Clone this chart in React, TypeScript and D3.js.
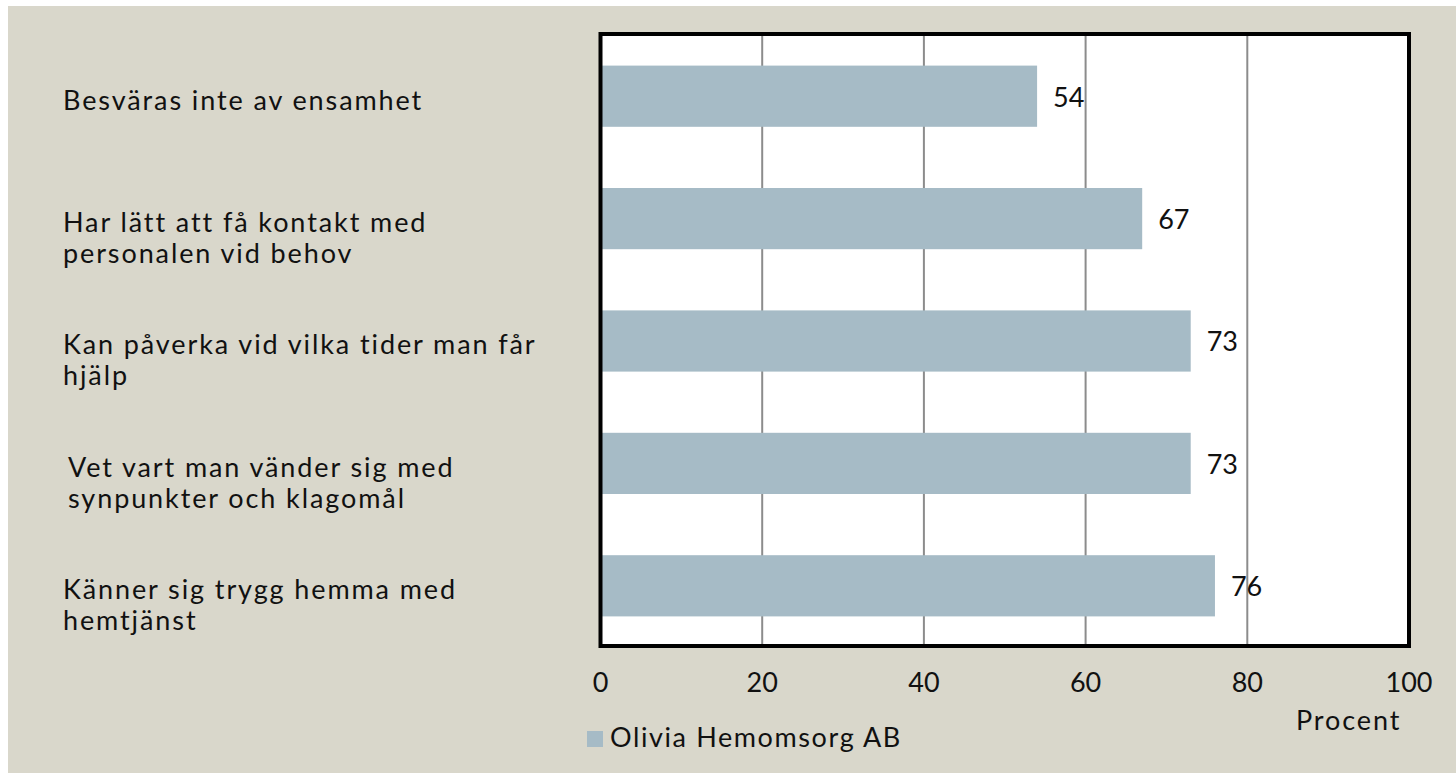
import * as d3 from 'd3';

const categories = [
  ['Besväras inte av ensamhet'],
  ['Har lätt att få kontakt med', 'personalen vid behov'],
  ['Kan påverka vid vilka tider man får', 'hjälp'],
  ['Vet vart man vänder sig med', 'synpunkter och klagomål'],
  ['Känner sig trygg hemma med', 'hemtjänst'],
];
const values = [54, 67, 73, 73, 76];
const xTicks = [0, 20, 40, 60, 80, 100];
const seriesName = 'Olivia Hemomsorg AB';
const axisTitle = 'Procent';

const W = 1456;
const H = 773;
const FONT = 'Lato, "Noto Sans", sans-serif';
const FS = 27;
const SPACING = '1.9px';

export default function App() {
  const plot = { left: 600.5, right: 1409, top: 35, bottom: 647 };

  const x = d3.scaleLinear().domain([0, 100]).range([plot.left, plot.right]);
  const y = d3
    .scaleBand<number>()
    .domain(d3.range(values.length))
    .range([plot.top, plot.bottom])
    .paddingInner(0.5)
    .paddingOuter(0.25);

  return (
    <div style={{ position: 'absolute', left: 0, top: 0 }}>
      <svg width={W} height={H} style={{ display: 'block', fontFamily: FONT }}>
        <rect x={8} y={6} width={W - 8} height={H - 6} fill="#d9d7cb" />

        {/* plot area */}
        <rect x={plot.left} y={plot.top} width={plot.right - plot.left} height={plot.bottom - plot.top} fill="#ffffff" />

        {/* gridlines */}
        {xTicks.slice(1, -1).map((t) => (
          <line key={t} x1={x(t)} x2={x(t)} y1={plot.top} y2={plot.bottom} stroke="#8c8c8c" strokeWidth={2} />
        ))}

        {/* bars */}
        {values.map((v, i) => (
          <rect key={i} x={x(0)} y={y(i)} width={x(v) - x(0)} height={y.bandwidth()} fill="#a6bbc6" />
        ))}

        {/* border */}
        <rect
          x={plot.left}
          y={plot.top - 1}
          width={plot.right - plot.left}
          height={plot.bottom - plot.top}
          fill="none"
          stroke="#000"
          strokeWidth={4}
        />

        {/* value labels */}
        {values.map((v, i) => (
          <text
            key={i}
            x={x(v) + 16}
            y={y(i)! + y.bandwidth() / 2 + 1}
            dy="0.35em"
            fontSize={FS}
            fill="#111"
          >
            {v}
          </text>
        ))}

        {/* category labels */}
        {categories.map((lines, i) => (
          <text
            key={i}
            x={i === 3 ? 68 : 63}
            y={y(i)! + y.bandwidth() / 2 + 4}
            fontSize={FS}
            fill="#111"
            style={{ letterSpacing: SPACING }}
          >
            {lines.map((l, j) => (
              <tspan key={j} x={i === 3 ? 68 : 63} dy={j === 0 ? '0.35em' : 31}>
                {l}
              </tspan>
            ))}
          </text>
        ))}

        {/* x tick labels */}
        {xTicks.map((t) => (
          <text key={t} x={x(t)} y={683} dy="0.35em" textAnchor="middle" fontSize={FS} fill="#111">
            {t}
          </text>
        ))}
        <text
          x={1296}
          y={721}
          dy="0.35em"
          fontSize={FS}
          fill="#111"
          style={{ letterSpacing: SPACING }}
        >
          {axisTitle}
        </text>

        {/* legend */}
        <rect x={587} y={731} width={16} height={16} fill="#a6bbc6" />
        <text x={610} y={738} dy="0.35em" fontSize={FS} fill="#111" style={{ letterSpacing: '1.6px' }}>
          {seriesName}
        </text>
      </svg>
    </div>
  );
}
